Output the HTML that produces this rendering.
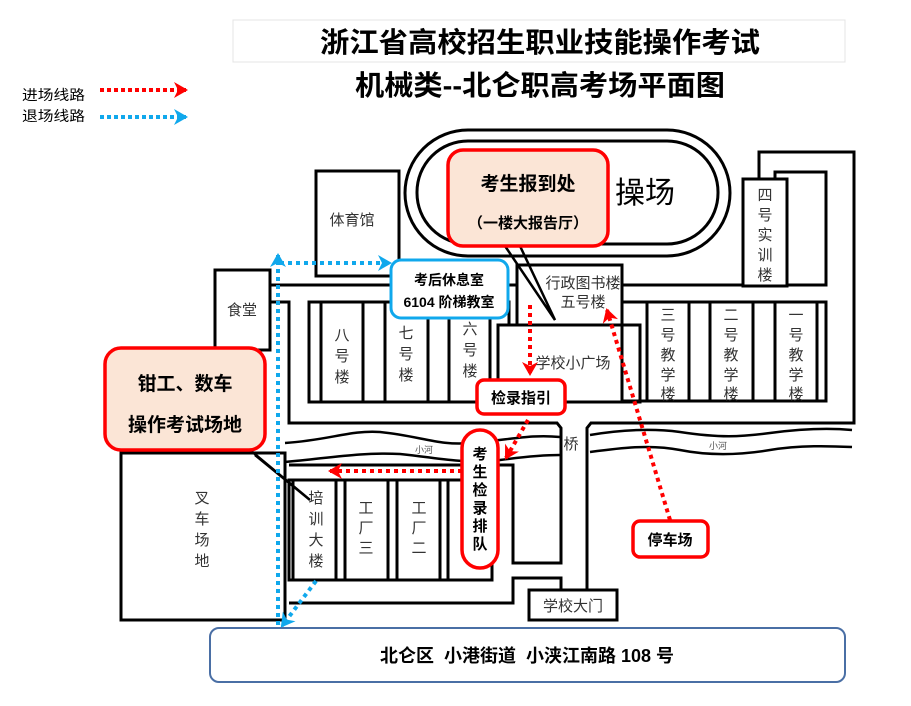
<!DOCTYPE html>
<html><head><meta charset="utf-8"><style>
html,body{margin:0;padding:0;background:#fff;}
svg{display:block;}
text{font-family:"Liberation Sans","Noto Sans CJK SC",sans-serif;}
</style></head><body>
<svg width="911" height="706" viewBox="0 0 911 706" xmlns="http://www.w3.org/2000/svg">
<defs>
<marker id="ar" markerWidth="14" markerHeight="16" refX="12" refY="8" orient="auto" markerUnits="userSpaceOnUse"><path d="M0,0 L14,8 L0,16 L4,8z" fill="#ff0000"/></marker>
<marker id="ab" markerWidth="14" markerHeight="16" refX="12" refY="8" orient="auto" markerUnits="userSpaceOnUse"><path d="M0,0 L14,8 L0,16 L4,8z" fill="#10a8ec"/></marker>
</defs>
<!-- title -->
<rect x="233" y="20" width="612" height="42" fill="none" stroke="#e4e4e4" stroke-width="1"/>
<text x="540" y="52" font-size="28" font-weight="bold" text-anchor="middle" textLength="440" lengthAdjust="spacingAndGlyphs">浙江省高校招生职业技能操作考试</text>
<text x="540" y="95" font-size="28" font-weight="bold" text-anchor="middle" textLength="370" lengthAdjust="spacingAndGlyphs">机械类--北仑职高考场平面图</text>
<!-- legend -->
<text x="22" y="100" font-size="14" textLength="63" lengthAdjust="spacingAndGlyphs">进场线路</text>
<text x="22" y="121" font-size="14" textLength="63" lengthAdjust="spacingAndGlyphs">退场线路</text>
<line x1="100" y1="90" x2="186" y2="90" stroke="#ff0000" stroke-width="4" stroke-dasharray="4,3" marker-end="url(#ar)"/>
<line x1="100" y1="117" x2="186" y2="117" stroke="#10a8ec" stroke-width="4" stroke-dasharray="4,3" marker-end="url(#ab)"/>

<g fill="none" stroke="#000" stroke-width="3">
<rect x="405" y="130" width="325" height="126" rx="63"/>
<rect x="417" y="141" width="301" height="103" rx="51"/>
<rect x="316" y="171" width="83" height="105" fill="#fff"/>
<rect x="215" y="270" width="55" height="80" fill="#fff"/>
<polyline points="270,285 517,285"/>
<polyline points="270,302 289,302 289,423 557,423 561,428 561,563 513,563 513,465 289,465"/>
<rect x="309" y="302" width="200" height="100"/>
<rect x="321" y="302" width="42" height="100"/>
<rect x="385" y="302" width="43" height="100"/>
<rect x="449" y="302" width="41" height="100"/>
<rect x="517" y="265" width="105" height="60" fill="#fff"/>
<rect x="498" y="325" width="142" height="77" fill="#fff"/>
<polyline points="622,285 826,285"/>
<rect x="622" y="302" width="204" height="99"/>
<rect x="647" y="302" width="42" height="99"/>
<rect x="710" y="302" width="43" height="99"/>
<rect x="775" y="302" width="42" height="99"/>
<polyline points="759,179 759,152 854,152 854,423 591,423 587,428 587,590"/>
<rect x="775" y="172" width="51" height="113" fill="#fff"/>
<rect x="743" y="179" width="44" height="107" fill="#fff"/>
<path d="M285,443 C330,440 350,430 380,432 C420,436 440,446 470,443 C510,440 530,434 560,437" stroke-width="2.5"/>
<path d="M285,462 C330,458 360,452 400,454 C440,458 460,464 500,460 C530,456 545,455 560,455" stroke-width="2.5"/>
<path d="M590,435 C620,430 650,428 680,432 C720,438 740,437 770,433 C800,429 830,428 852,430" stroke-width="2.5"/>
<path d="M590,452 C620,448 650,444 680,450 C710,456 740,455 770,450 C800,445 830,446 852,447" stroke-width="2.5"/>
<rect x="289" y="480" width="203" height="100"/>
<rect x="293" y="480" width="43" height="100"/>
<rect x="345" y="480" width="43" height="100"/>
<rect x="397" y="480" width="43" height="100"/>
<rect x="448" y="480" width="44" height="100"/>
<polyline points="289,603 513,603 513,578 561,578 561,590"/>
<rect x="121" y="453" width="164" height="167" fill="#fff"/>
<rect x="529" y="590" width="88" height="30" fill="#fff"/>
<polyline points="505,246 555,320 520,246" stroke-width="2.5"/>
<polyline points="250,450 310,500 255,455" stroke-width="2.5"/>
</g>

<g stroke-width="4" stroke-dasharray="4,4" fill="none">
<line x1="530" y1="305" x2="530" y2="374" stroke="#ff0000" marker-end="url(#ar)"/>
<line x1="528" y1="420" x2="506" y2="458" stroke="#ff0000" marker-end="url(#ar)"/>
<line x1="462" y1="471" x2="330" y2="471" stroke="#ff0000" marker-end="url(#ar)"/>
<line x1="670" y1="520" x2="607" y2="310" stroke="#ff0000" marker-end="url(#ar)"/>
<line x1="278" y1="625" x2="278" y2="255" stroke="#10a8ec" marker-end="url(#ab)"/>
<line x1="280" y1="263" x2="390" y2="263" stroke="#10a8ec" marker-end="url(#ab)"/>
<line x1="316" y1="581" x2="282" y2="626" stroke="#10a8ec" marker-end="url(#ab)"/>
</g>

<rect x="448" y="150" width="160" height="96" rx="15" fill="#fbe5d6" stroke="#ff0000" stroke-width="3.5"/>
<text x="528" y="190" font-size="19" font-weight="bold" text-anchor="middle">考生报到处</text>
<text x="528" y="228" font-size="15" font-weight="bold" text-anchor="middle">（一楼大报告厅）</text>
<text x="645" y="203" font-size="30" text-anchor="middle">操场</text>
<rect x="391" y="260" width="117" height="58" rx="10" fill="#fff" stroke="#10a8ec" stroke-width="3"/>
<text x="449" y="285" font-size="14" font-weight="bold" text-anchor="middle">考后休息室</text>
<text x="449" y="307" font-size="14" font-weight="bold" text-anchor="middle">6104 阶梯教室</text>
<rect x="105" y="348" width="160" height="102" rx="16" fill="#fbe5d6" stroke="#ff0000" stroke-width="3.5"/>
<text x="185" y="390" font-size="19" font-weight="bold" text-anchor="middle">钳工、数车</text>
<text x="185" y="431" font-size="19" font-weight="bold" text-anchor="middle">操作考试场地</text>
<rect x="477" y="380" width="88" height="34" rx="7" fill="#fff" stroke="#ff0000" stroke-width="3.5"/>
<text x="521" y="403" font-size="15" font-weight="bold" text-anchor="middle">检录指引</text>
<rect x="462" y="430" width="36" height="138" rx="18" fill="#fff" stroke="#ff0000" stroke-width="3.5"/>
<g font-size="15" font-weight="bold" text-anchor="middle">
<text x="480" y="459">考</text><text x="480" y="477">生</text><text x="480" y="495">检</text><text x="480" y="513">录</text><text x="480" y="531">排</text><text x="480" y="549">队</text>
</g>
<rect x="633" y="521" width="75" height="36" rx="7" fill="#fff" stroke="#ff0000" stroke-width="3.5"/>
<text x="670" y="545" font-size="15" font-weight="bold" text-anchor="middle">停车场</text>
<rect x="210" y="628" width="635" height="54" rx="9" fill="#fff" stroke="#4a6fa5" stroke-width="2"/>
<text x="527" y="662" font-size="18" font-weight="bold" text-anchor="middle">北仑区&#160;&#160;小港街道&#160;&#160;小浃江南路 108 号</text>

<g font-size="15" fill="#333" text-anchor="middle">
<text x="352" y="225">体育馆</text>
<text x="242" y="315">食堂</text>
<text x="342" y="340">八</text><text x="342" y="361">号</text><text x="342" y="382">楼</text>
<text x="406" y="338">七</text><text x="406" y="359">号</text><text x="406" y="380">楼</text>
<text x="470" y="334">六</text><text x="470" y="355">号</text><text x="470" y="376">楼</text>
<text x="583" y="288">行政图书楼</text>
<text x="583" y="307">五号楼</text>
<text x="573" y="368">学校小广场</text>
<text x="668" y="320">三</text><text x="668" y="340">号</text><text x="668" y="360">教</text><text x="668" y="380">学</text><text x="668" y="399">楼</text>
<text x="731" y="320">二</text><text x="731" y="340">号</text><text x="731" y="360">教</text><text x="731" y="380">学</text><text x="731" y="399">楼</text>
<text x="796" y="320">一</text><text x="796" y="340">号</text><text x="796" y="360">教</text><text x="796" y="380">学</text><text x="796" y="399">楼</text>
<text x="765" y="200">四</text><text x="765" y="220">号</text><text x="765" y="240">实</text><text x="765" y="260">训</text><text x="765" y="280">楼</text>
<text x="571" y="449">桥</text>
<text x="202" y="503">叉</text><text x="202" y="524">车</text><text x="202" y="545">场</text><text x="202" y="566">地</text>
<text x="316" y="503">培</text><text x="316" y="524">训</text><text x="316" y="545">大</text><text x="316" y="566">楼</text>
<text x="366" y="513">工</text><text x="366" y="533">厂</text><text x="366" y="553">三</text>
<text x="419" y="513">工</text><text x="419" y="533">厂</text><text x="419" y="553">二</text>
<text x="573" y="611">学校大门</text>
</g>
<text x="424" y="453" font-size="9" fill="#555" text-anchor="middle">小河</text>
<text x="718" y="449" font-size="9" fill="#555" text-anchor="middle">小河</text>
</svg>
</body></html>
